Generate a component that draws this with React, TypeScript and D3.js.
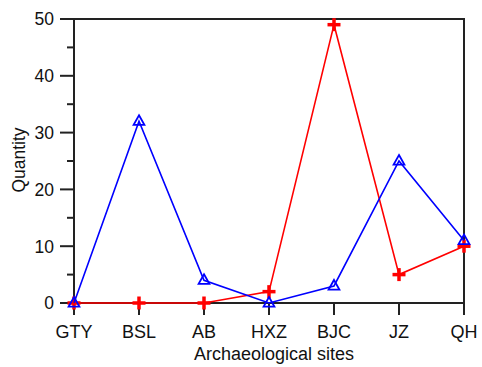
import React from "react";
import * as d3 from "d3";

const sites = ["GTY", "BSL", "AB", "HXZ", "BJC", "JZ", "QH"];
const blueValues = [0, 32, 4, 0, 3, 25, 11];
const redValues = [0, 0, 0, 2, 49, 5, 10];
const yMajorTicks = [0, 10, 20, 30, 40, 50];
const yMinorTicks = [5, 15, 25, 35, 45];

export default function App() {
  const W = 482, H = 367;
  const left = 74, right = 464, top = 19, bottom = 303;
  const x = d3.scalePoint<string>().domain(sites).range([left, right]);
  const y = d3.scaleLinear().domain([0, 50]).range([bottom, top]);
  const lineGen = d3.line<number>().x((_, i) => x(sites[i])!).y((d) => y(d));
  const font = "'Liberation Sans', Arial, sans-serif";
  const axisColor = "#222";
  const tri = (cx: number, cy: number) => {
    const s = 6;
    return `M${cx},${cy - s}L${cx + s * 0.9},${cy + s * 0.6}L${cx - s * 0.9},${cy + s * 0.6}Z`;
  };
  return (
    <svg width={W} height={H} style={{ position: "absolute", left: 0, top: 0 }} fontFamily={font}>
      <rect x={0} y={0} width={W} height={H} fill="#fff" />
      <rect x={left} y={top} width={right - left} height={bottom - top} fill="none" stroke={axisColor} strokeWidth={2} />
      {yMajorTicks.map((t) => (
        <g key={"ym" + t}>
          <line x1={left - 14} x2={left} y1={y(t)} y2={y(t)} stroke={axisColor} strokeWidth={2} />
          <text x={left - 20} y={y(t)} dy="0.36em" textAnchor="end" fontSize={17.5} fill="#111">{t}</text>
        </g>
      ))}
      {yMinorTicks.map((t) => (
        <line key={"yn" + t} x1={left - 7} x2={left} y1={y(t)} y2={y(t)} stroke={axisColor} strokeWidth={2} />
      ))}
      {sites.map((s) => (
        <g key={"x" + s}>
          <line x1={x(s)} x2={x(s)} y1={bottom} y2={bottom + 12} stroke={axisColor} strokeWidth={2} />
          <text x={x(s)} y={338} textAnchor="middle" fontSize={18} fill="#111">{s}</text>
        </g>
      ))}
      <text x={(left + right) / 2 + 5} y={360} textAnchor="middle" fontSize={18} fill="#111">Archaeological sites</text>
      <text transform={`translate(25,160) rotate(-90)`} textAnchor="middle" fontSize={17.5} fill="#111">Quantity</text>
      <path d={lineGen(redValues)!} fill="none" stroke="#ff0000" strokeWidth={1.6} />
      {redValues.map((v, i) => {
        const cx = x(sites[i])!, cy = y(v);
        return (
          <g key={"r" + i} stroke="#ff0000" strokeWidth={3.5}>
            <line x1={cx - 6.5} x2={cx + 6.5} y1={cy} y2={cy} />
            <line x1={cx} x2={cx} y1={cy - 6.5} y2={cy + 6.5} />
          </g>
        );
      })}
      <path d={lineGen(blueValues)!} fill="none" stroke="#0000ff" strokeWidth={1.6} />
      {blueValues.map((v, i) => (
        <path key={"b" + i} d={tri(x(sites[i])!, y(v))} fill="none" stroke="#0000ff" strokeWidth={1.8} />
      ))}
    </svg>
  );
}
